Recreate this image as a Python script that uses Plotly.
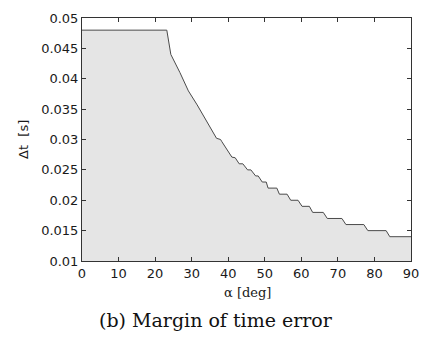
import plotly.graph_objects as go

alpha = [0, 23.2, 24.3, 25.0, 26.8, 29.1, 31.5, 36.8, 37.9, 38.2, 41.0, 41.9, 43.0, 44.0, 45.3, 46.2,
         47.5, 48.2, 49.3, 50.4, 50.9, 53.3, 54.0, 56.1, 57.1, 59.1, 60.2, 62.2, 63.1, 66.0,
         67.1, 71.1, 72.2, 77.1, 78.2, 83.2, 84.2, 90]
dt = [0.048, 0.048, 0.044, 0.0432, 0.041, 0.038, 0.0357, 0.0302, 0.030, 0.0297, 0.0271, 0.027, 0.026, 0.026,
      0.025, 0.025, 0.024, 0.024, 0.023, 0.023, 0.022, 0.022, 0.021, 0.021, 0.020, 0.020,
      0.019, 0.019, 0.018, 0.018, 0.017, 0.017, 0.016, 0.016, 0.015, 0.015, 0.014, 0.014]

x_ticks = [0, 10, 20, 30, 40, 50, 60, 70, 80, 90]
y_ticks = [0.01, 0.015, 0.02, 0.025, 0.03, 0.035, 0.04, 0.045, 0.05]
y_ticklabels = ["0.01", "0.015", "0.02", "0.025", "0.03", "0.035", "0.04", "0.045", "0.05"]

fig = go.Figure()
fig.add_trace(go.Scatter(x=alpha, y=dt, mode="lines", fill="tozeroy",
                         fillcolor="#e5e5e5", line=dict(color="#4a4a4a", width=1),
                         showlegend=False, hoverinfo="skip"))

axis_common = dict(showgrid=False, zeroline=False, showline=True, linecolor="#333333", linewidth=1,
                   mirror="ticks", ticks="inside", ticklen=4, tickcolor="#333333",
                   tickfont=dict(family="DejaVu Sans", size=13, color="#1a1a1a"))

fig.update_xaxes(range=[0, 90], tickvals=x_ticks, **axis_common)
fig.update_yaxes(range=[0.01, 0.05], tickvals=y_ticks, ticktext=y_ticklabels, **axis_common)

fig.update_layout(
    width=430, height=344, margin=dict(l=82, r=11, t=15, b=83),
    paper_bgcolor="white", plot_bgcolor="white",
    annotations=[
        dict(text="α [deg]", xref="paper", yref="paper", x=0.503, y=-0.130, xanchor="center", yanchor="middle",
             showarrow=False, font=dict(family="DejaVu Serif", size=13, color="#1a1a1a")),
        dict(text="Δt  [s]", xref="paper", yref="paper", x=-0.178, y=0.5, xanchor="center", yanchor="middle",
             textangle=-90, showarrow=False, font=dict(family="DejaVu Sans", size=13, color="#1a1a1a")),
        dict(text="(b) Margin of time error", xref="paper", yref="paper", x=0.4065, y=-0.244,
             xanchor="center", yanchor="middle", showarrow=False,
             font=dict(family="DejaVu Serif", size=19, color="#111111")),
    ],
)

fig.write_html("out.html")
